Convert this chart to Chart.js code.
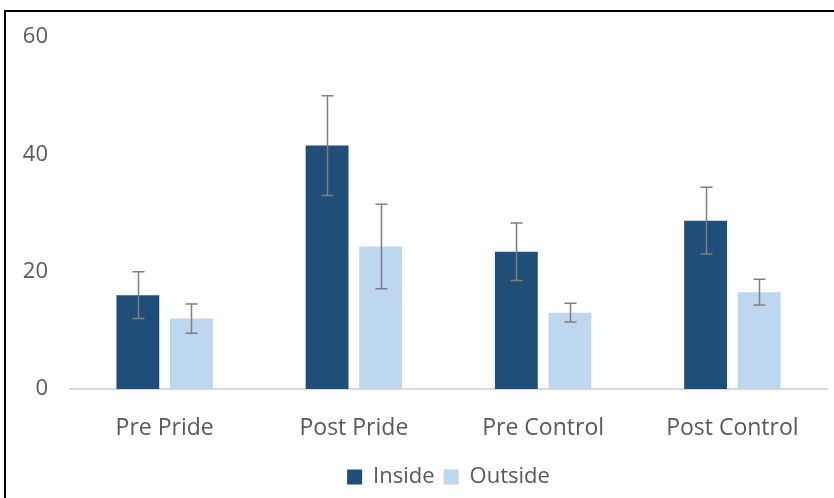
<!DOCTYPE html>
<html>
<head>
<meta charset="utf-8">
<script src="https://cdn.jsdelivr.net/npm/chart.js@4/dist/chart.umd.min.js"></script>
<style>
  html, body { margin: 0; padding: 0; background: #fff; overflow: hidden; }
  #wrap { position: relative; width: 834px; height: 498px; }
  #frame { position: absolute; left: 4px; top: 10px; width: 900px; height: 600px;
           border-left: 2px solid #000; border-top: 2px solid #000; pointer-events: none; }
  canvas { position: absolute; left: 0; top: 0; }
</style>
</head>
<body>
<div id="wrap">
  <canvas id="chart" width="834" height="498"></canvas>
  <div id="frame"></div>
</div>
<script>
// Groups along the x axis
const categories = ['Pre Pride', 'Post Pride', 'Pre Control', 'Post Control'];

// Mean counts per group
const insideValues = [16.0, 41.5, 23.4, 28.7];
const outsideValues = [12.0, 24.3, 13.0, 16.5];

// Error bar half-lengths (±)
const insideErrors = [4.0, 8.5, 4.9, 5.7];
const outsideErrors = [2.5, 7.2, 1.6, 2.2];

// Y axis range
const yTicks = [0, 20, 40, 60];

const textColor = '#595959';
const fontFamily = "'Open Sans', 'Noto Sans', sans-serif";

// Draws a vertical whisker with caps at each bar, using the y scale
const errorBars = {
  id: 'errorBars',
  afterDatasetsDraw(chart) {
    const { ctx, scales: { y } } = chart;
    ctx.save();
    ctx.strokeStyle = '#7f7f7f';
    ctx.lineWidth = 1.5;
    chart.data.datasets.forEach((ds, di) => {
      const meta = chart.getDatasetMeta(di);
      meta.data.forEach((bar, i) => {
        const v = ds.data[i];
        const e = ds.errors[i];
        const top = y.getPixelForValue(v + e);
        const bot = y.getPixelForValue(v - e);
        const x = Math.round(bar.x) + 0.5;
        const cap = 6;
        ctx.beginPath();
        ctx.moveTo(x, top); ctx.lineTo(x, bot);
        ctx.moveTo(x - cap, top); ctx.lineTo(x + cap, top);
        ctx.moveTo(x - cap, bot); ctx.lineTo(x + cap, bot);
        ctx.stroke();
      });
    });
    ctx.restore();
  }
};

new Chart(document.getElementById('chart'), {
  type: 'bar',
  data: {
    labels: categories,
    datasets: [
      { label: 'Inside', data: insideValues, errors: insideErrors,
        backgroundColor: '#1f4e79', categoryPercentage: 0.566, barPercentage: 0.80 },
      { label: 'Outside', data: outsideValues, errors: outsideErrors,
        backgroundColor: '#bdd7ee', categoryPercentage: 0.566, barPercentage: 0.80 }
    ]
  },
  options: {
    responsive: false,
    animation: false,
    layout: { padding: { left: 0, right: 7, top: 37, bottom: 0 } },
    plugins: {
      tooltip: { enabled: false },
      legend: {
        position: 'bottom',
        fullSize: false,
        labels: {
          color: textColor,
          font: { family: fontFamily, size: 22 },
          boxWidth: 15, boxHeight: 15,
          padding: 9
        }
      }
    },
    scales: {
      x: {
        grid: { display: false, drawTicks: false },
        border: { display: true, color: '#d9d9d9', width: 2 },
        ticks: { color: textColor, font: { family: fontFamily, size: 23 }, padding: 26 },
        afterFit(scale) { scale.height = 68; }
      },
      y: {
        min: yTicks[0],
        max: yTicks[yTicks.length - 1],
        grid: { display: false, drawTicks: false },
        border: { display: false },
        afterBuildTicks(scale) { scale.ticks = yTicks.map(v => ({ value: v })); },
        ticks: { color: textColor, font: { family: fontFamily, size: 22 }, padding: 22 },
        afterFit(scale) { scale.width = 70; }
      }
    }
  },
  plugins: [errorBars]
});
</script>
</body>
</html>
